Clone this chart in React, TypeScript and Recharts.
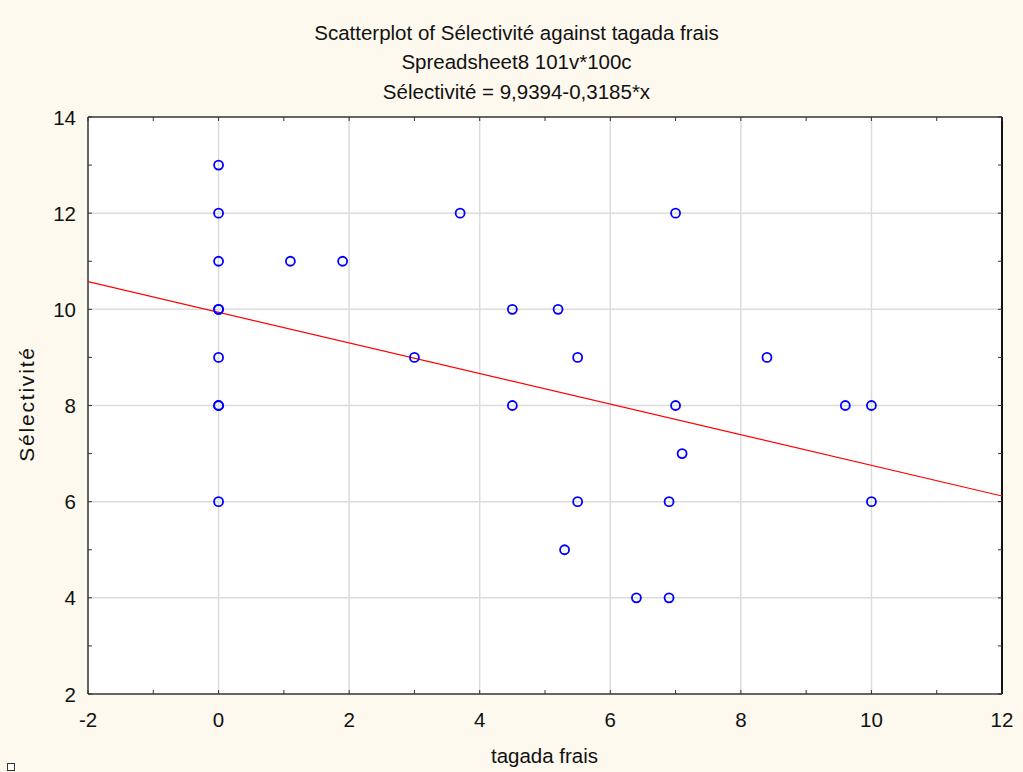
import {
  ScatterChart,
  Scatter,
  XAxis,
  YAxis,
  ReferenceLine,
  CartesianGrid,
} from 'recharts'

// tagada frais (x) vs Sélectivité (y)
const tagadaFrais = [0, 0, 0, 0, 0, 0, 0, 0, 0, 1.1, 1.9, 3.7, 3.0, 4.5, 4.5, 5.2, 5.5, 5.5, 5.3, 7.0, 7.0, 7.1, 6.9, 6.4, 6.9, 8.4, 9.6, 10, 10]
const selectivite = [13, 12, 11, 10, 10, 9, 8, 8, 6, 11, 11, 12, 9, 10, 8, 10, 9, 6, 5, 12, 8, 7, 6, 4, 4, 9, 8, 8, 6]

const intercept = 9.9394
const slope = -0.3185

const xTicks = [-2, -1, 0, 1, 2, 3, 4, 5, 6, 7, 8, 9, 10, 11, 12]
const yTicks = [2, 3, 4, 5, 6, 7, 8, 9, 10, 11, 12, 13, 14]
const xGrid = [0, 2, 4, 6, 8, 10]
const yGrid = [4, 6, 8, 10, 12]

const points = tagadaFrais.map((x, i) => ({ x, y: selectivite[i] }))
const fitLine = [-2, 12].map((x) => ({ x, y: intercept + slope * x }))

const FONT = '"Liberation Sans", Arial, sans-serif'
const AXIS = '#333333'

function BottomTick({ x, y, payload }: any) {
  const even = payload.value % 2 === 0
  return (
    <g>
      <line x1={x} x2={x} y1={y} y2={y - 4} stroke={AXIS} />
      {even && (
        <text x={x} y={y + 25} textAnchor="middle" dominantBaseline="central" fontSize={20.5} fill="#111" fontFamily={FONT}>
          {payload.value}
        </text>
      )}
    </g>
  )
}

function TopTick({ x, y }: any) {
  return <line x1={x} x2={x} y1={y} y2={y + 4} stroke={AXIS} />
}

function LeftTick({ x, y, payload }: any) {
  const even = payload.value % 2 === 0
  return (
    <g>
      <line x1={x} x2={x + 4} y1={y} y2={y} stroke={AXIS} />
      {even && (
        <text x={x - 12} y={y} textAnchor="end" dominantBaseline="central" fontSize={20.5} fill="#111" fontFamily={FONT}>
          {payload.value}
        </text>
      )}
    </g>
  )
}

function RightTick({ x, y }: any) {
  return <line x1={x} x2={x - 4} y1={y} y2={y} stroke={AXIS} />
}

const Ring = (props: any) => (
  <circle cx={props.cx} cy={props.cy} r={4.5} fill="none" stroke="#0000ff" strokeWidth={1.8} />
)

export default function App() {
  const titleStyle = {
    position: 'absolute' as const,
    left: 5,
    width: 1023,
    textAlign: 'center' as const,
    fontFamily: FONT,
    fontSize: 20.5,
    color: '#111',
    lineHeight: '24px',
  }
  return (
    <div style={{ position: 'absolute', left: 0, top: 0, width: 1023, height: 772, background: '#fdf9ee', overflow: 'hidden' }}>
      <div style={{ ...titleStyle, top: 21 }}>Scatterplot of Sélectivité against tagada frais</div>
      <div style={{ ...titleStyle, top: 50 }}>Spreadsheet8 101v*100c</div>
      <div style={{ ...titleStyle, top: 80 }}>Sélectivité = 9,9394-0,3185*x</div>

      <ScatterChart width={1023} height={772} margin={{ top: 116, right: 20, bottom: 0, left: 0 }}>
        <CartesianGrid fill="#ffffff" stroke="none" horizontal={false} vertical={false} />
        <XAxis
          xAxisId="b"
          type="number"
          dataKey="x"
          domain={[-2, 12]}
          ticks={xTicks}
          interval={0}
          height={78}
          tickSize={0}
          tickMargin={0}
          tick={<BottomTick />}
          axisLine={{ stroke: AXIS, strokeWidth: 1.5 }}
          allowDataOverflow
        />
        <XAxis
          xAxisId="t"
          orientation="top"
          type="number"
          dataKey="x"
          domain={[-2, 12]}
          ticks={xTicks}
          interval={0}
          height={1}
          tickSize={0}
          tickMargin={0}
          tick={<TopTick />}
          axisLine={{ stroke: AXIS, strokeWidth: 1.5 }}
          allowDataOverflow
        />
        <YAxis
          yAxisId="l"
          type="number"
          dataKey="y"
          domain={[2, 14]}
          ticks={yTicks}
          interval={0}
          width={88}
          tickSize={0}
          tickMargin={0}
          tick={<LeftTick />}
          axisLine={{ stroke: AXIS, strokeWidth: 1.5 }}
          allowDataOverflow
        />
        <YAxis
          yAxisId="r"
          orientation="right"
          type="number"
          dataKey="y"
          domain={[2, 14]}
          ticks={yTicks}
          interval={0}
          width={1}
          tickSize={0}
          tickMargin={0}
          tick={<RightTick />}
          axisLine={{ stroke: '#111', strokeWidth: 2 }}
          allowDataOverflow
        />
        {xGrid.map((v) => (
          <ReferenceLine key={'gx' + v} xAxisId="b" yAxisId="l" x={v} stroke="#dcdcdc" strokeWidth={1.5} />
        ))}
        {yGrid.map((v) => (
          <ReferenceLine key={'gy' + v} xAxisId="b" yAxisId="l" y={v} stroke="#dcdcdc" strokeWidth={1.5} />
        ))}
        <Scatter
          xAxisId="b"
          yAxisId="l"
          data={fitLine}
          line={{ stroke: '#ff0000', strokeWidth: 1.2 }}
          shape={() => <g />}
          isAnimationActive={false}
        />
        <Scatter xAxisId="b" yAxisId="l" data={points} shape={<Ring />} isAnimationActive={false} />
      </ScatterChart>

      <div
        style={{
          position: 'absolute',
          left: 27,
          top: 404,
          transform: 'translate(-50%, -50%) rotate(-90deg)',
          fontFamily: FONT,
          fontSize: 21,
          letterSpacing: 1.8,
          color: '#111',
          whiteSpace: 'nowrap',
        }}
      >
        Sélectivité
      </div>
      <div style={{ ...titleStyle, top: 744, left: 33 }}>tagada frais</div>
      <div style={{ position: 'absolute', left: 7, top: 763, width: 6, height: 6, border: '1px solid #333', background: '#fff' }} />
    </div>
  )
}
